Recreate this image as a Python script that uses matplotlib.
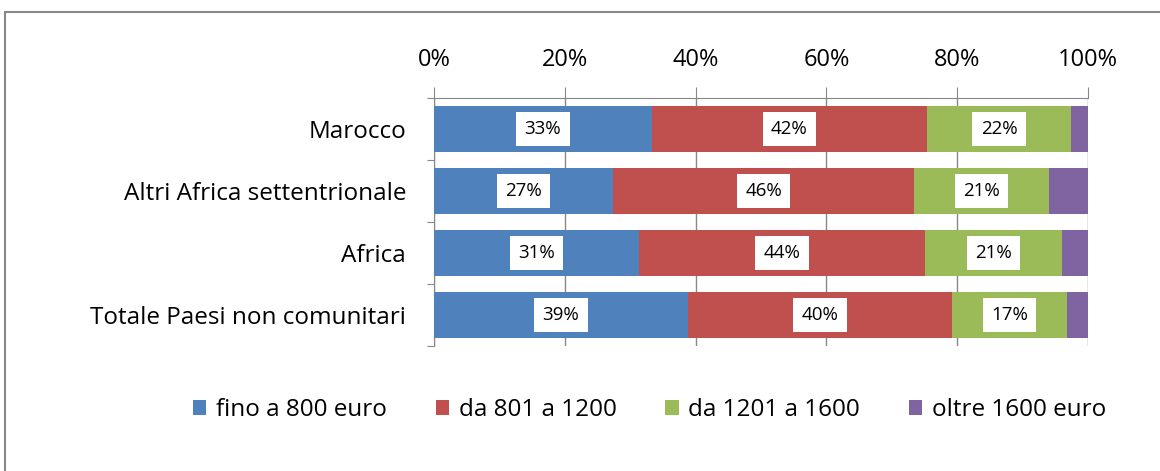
import matplotlib.pyplot as plt
from matplotlib.patches import Rectangle
import numpy as np

# categories from top to bottom
categories = ["Marocco", "Altri Africa settentrionale", "Africa", "Totale Paesi non comunitari"]
series_names = ["fino a 800 euro", "da 801 a 1200", "da 1201 a 1600", "oltre 1600 euro"]

fino_800 = [33.3, 27.4, 31.3, 38.8]
da_801_1200 = [42.1, 46.0, 43.8, 40.4]
da_1201_1600 = [22.0, 20.6, 20.9, 17.6]
oltre_1600 = [2.6, 6.0, 4.0, 3.2]

# labels as printed on the chart (purple has none)
label_fino = ["33%", "27%", "31%", "39%"]
label_801 = ["42%", "46%", "44%", "40%"]
label_1201 = ["22%", "21%", "21%", "17%"]

colors = ["#4F81BD", "#C0504D", "#9BBB59", "#8064A2"]

plt.rcParams['font.family'] = ['Open Sans', 'DejaVu Sans']

fig = plt.figure(figsize=(11.6, 4.71), dpi=100)
ax = fig.add_axes([434 / 1160, 1 - 346 / 471, 654 / 1160, 248 / 471])

y = np.arange(len(categories))
series = [fino_800, da_801_1200, da_1201_1600, oltre_1600]
labels = [label_fino, label_801, label_1201, None]
left = np.zeros(len(categories))
for vals, name, col, labs in zip(series, series_names, colors, labels):
    vals = np.array(vals)
    ax.barh(y, vals, left=left, height=0.73, color=col, label=name, zorder=3)
    if labs is not None:
        for yi, (l, v, t) in enumerate(zip(left, vals, labs)):
            ax.text(l + v / 2, yi, t, ha='center', va='center', fontsize=13.5, zorder=4,
                    bbox=dict(facecolor='white', edgecolor='none', boxstyle='square,pad=0.45'))
    left = left + vals

ax.set_xlim(0, 100)
ax.set_ylim(len(categories) - 0.5, -0.5)

ax.xaxis.tick_top()
ax.set_xticks(np.arange(0, 101, 20))
ax.set_xticklabels([f"{v}%" for v in range(0, 101, 20)], fontsize=17)
ax.tick_params(axis='x', which='major', length=8, color='#888888', pad=11)
ax.grid(axis='x', color='#888888', linewidth=1, zorder=0)

# category boundaries get the tick marks, labels sit at the centres
ax.set_yticks(np.arange(-0.5, len(categories), 1))
ax.set_yticklabels([])
ax.set_yticks(y, minor=True)
ax.set_yticklabels(categories, minor=True, fontsize=17.5)
ax.tick_params(axis='y', which='major', length=5, color='#888888')
ax.tick_params(axis='y', which='minor', length=0, pad=20)

for s in ['bottom', 'right']:
    ax.spines[s].set_visible(False)
ax.spines['top'].set_color('#888888')
ax.spines['left'].set_color('#888888')

fig.legend(loc='center', bbox_to_anchor=(0.56, 1 - 410 / 471), ncol=4, frameon=False,
           fontsize=17.5, handlelength=0.55, handleheight=0.55, handletextpad=0.4, columnspacing=2.0)

# outer chart frame
fig.patches.append(Rectangle((5 / 1160, -0.1), 1.2, 1 - 12 / 471 + 0.1, transform=fig.transFigure,
                             fill=False, edgecolor='#888888', linewidth=1.5))

fig.savefig("out.png", dpi=100)
